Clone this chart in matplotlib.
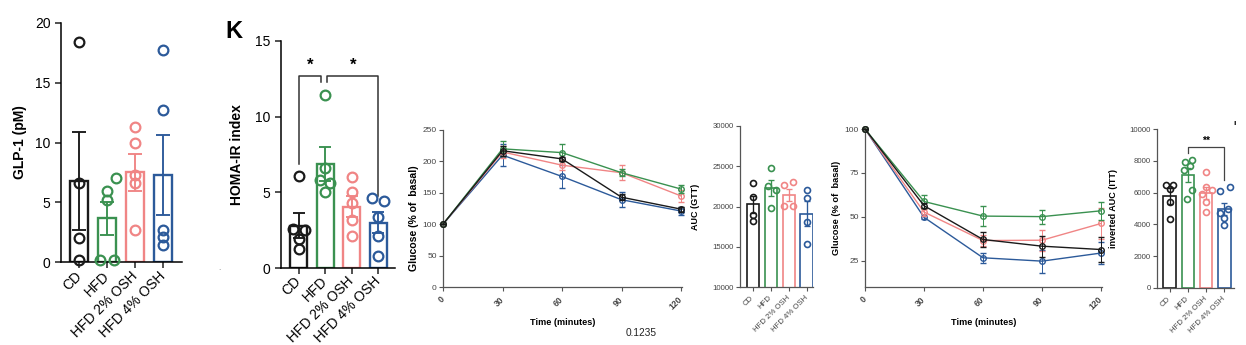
import matplotlib
matplotlib.use('Agg')
import matplotlib.pyplot as plt
import numpy as np

plt.rcParams['font.family'] = ['Liberation Sans', 'DejaVu Sans']

# ── data ──────────────────────────────────────
groups = ['CD', 'HFD', 'HFD 2% OSH', 'HFD 4% OSH']
colors = ['#1a1a1a', '#3a9150', '#f08585', '#2c5a9a']

# GLP-1 (pM)
glp_mean = [6.8, 3.65, 7.5, 7.25]
glp_sem = [4.1, 1.35, 1.55, 3.35]
glp_pts = [[18.4, 6.6, 2.0, 0.2],
           [7.0, 5.9, 5.2, 0.2, 0.2],
           [11.3, 10.0, 7.3, 6.6, 2.7],
           [17.7, 12.7, 2.7, 2.1, 1.4]]
glp_jit = [[0, 0, 0, 0],
           [0.3, 0, 0, -0.27, 0.24],
           [0, 0, 0, 0, 0],
           [0, 0, 0, 0, 0]]

# HOMA-IR index
homa_mean = [2.8, 6.87, 4.05, 3.0]
homa_sem = [0.85, 1.15, 0.7, 0.72]
homa_pts = [[6.1, 2.55, 2.5, 1.9, 1.25],
            [11.4, 6.6, 5.8, 5.6, 5.05],
            [6.0, 5.0, 4.3, 3.2, 2.1],
            [4.6, 4.45, 3.35, 2.1, 0.8]]
homa_jit = [[0, -0.22, 0.22, 0, 0],
            [0, 0, -0.2, 0.2, 0],
            [0, 0, 0, 0, 0],
            [-0.22, 0.22, 0, 0, 0]]

# GTT (% of basal)
time_min = [0, 30, 60, 90, 120]
gtt_mean = [[100, 217, 204, 143, 124],
            [100, 220, 214, 182, 156],
            [100, 215, 194, 182, 145],
            [100, 210, 176, 139, 121]]
gtt_sem = [[0, 8, 3, 5, 4],
           [0, 12, 13, 6, 6],
           [0, 10, 8, 12, 9],
           [0, 18, 18, 12, 6]]

# AUC (GTT)
auc_gtt_mean = [20250, 22300, 21430, 19080]
auc_gtt_sem = [1050, 1000, 750, 1550]
auc_gtt_pts = [[22930, 21230, 19000, 18150],
               [24800, 22600, 22060, 19810],
               [22680, 23010, 20020, 20020],
               [22060, 21020, 18020, 15320]]
auc_gtt_jit = [[0, 0, 0, 0],
               [0, -0.18, 0.28, 0],
               [-0.24, 0.22, -0.24, 0.22],
               [0, 0, 0, 0]]

# ITT (% of basal)
itt_mean = [[100, 56.4, 37.2, 33.4, 31.5],
            [100, 58.8, 50.5, 50.2, 53.5],
            [100, 52.8, 36.6, 36.8, 46.3],
            [100, 49.8, 26.8, 24.9, 29.5]]
itt_sem = [[0, 1.5, 4, 6, 7],
           [0, 3.5, 5.5, 4, 5],
           [0, 2, 3, 6, 9],
           [0, 1, 3, 6.5, 6]]

# inverted AUC (ITT)
auc_itt_mean = [5780, 7090, 5950, 4990]
auc_itt_sem = [520, 430, 380, 380]
auc_itt_pts = [[6480, 6480, 6220, 5420, 4310],
               [8050, 7900, 7650, 7450, 6150, 5570],
               [7310, 6370, 6160, 5900, 5420, 4790],
               [6370, 6110, 5000, 4690, 4410, 3950]]
auc_itt_jit = [[-0.18, 0.2, 0, 0, 0],
               [0.22, -0.15, 0.1, -0.2, 0.2, -0.05],
               [0, 0, 0.3, -0.25, 0, 0],
               [0.3, -0.25, 0.2, -0.25, 0, 0]]


# ── helpers ───────────────────────────────────
def px_axes(fig, x0, x1, ytop, ybot):
    W, H = 1246, 345
    return fig.add_axes([x0 / W, 1 - ybot / H, (x1 - x0) / W, (ybot - ytop) / H])


def bar_dot(ax, means, sems, pts, jit, lw, ms, mew, cap, fs, width=0.64):
    x = np.arange(len(groups))
    for i in range(len(groups)):
        ax.bar(x[i], means[i], width=width, color='white', edgecolor=colors[i],
               linewidth=lw, zorder=2)
        ax.errorbar(x[i], means[i], yerr=sems[i], color=colors[i], capsize=cap,
                    elinewidth=lw * 0.8, capthick=lw * 0.8, zorder=3)
        ax.plot(x[i] + np.array(jit[i]), pts[i], 'o', mfc='none', mec=colors[i],
                ms=ms, mew=mew, zorder=4, clip_on=False)
    ax.set_xticks(x)
    ax.set_xticklabels(groups, rotation=45, ha='right', va='center',
                       rotation_mode='anchor', fontsize=fs)
    ax.spines[['top', 'right']].set_visible(False)


def line_panel(ax, means, sems, axcol='#555555'):
    for i in [3, 2, 1, 0]:
        ax.errorbar(time_min, means[i], yerr=sems[i], color=colors[i], lw=1.0,
                    marker='o', mfc='none', mec=colors[i], ms=4, mew=1.0,
                    capsize=2, elinewidth=0.7, capthick=0.7, clip_on=False,
                    zorder=3 + (3 - i))
    ax.set_xticks(time_min)
    ax.set_xticklabels([str(t) for t in time_min], rotation=45, ha='right',
                       va='center', rotation_mode='anchor', fontsize=6.2,
                       fontweight='bold', color='#444444')
    ax.spines[['top', 'right']].set_visible(False)
    for s in ['left', 'bottom']:
        ax.spines[s].set_color(axcol)
        ax.spines[s].set_linewidth(0.9)
    ax.tick_params(colors=axcol, width=0.8, length=3, labelcolor='#444444')
    ax.tick_params(axis='y', labelsize=6, pad=1.5)
    ax.tick_params(axis='x', pad=5)
    ax.set_xlabel('Time (minutes)', fontsize=6.6, fontweight='bold', labelpad=5)


fig = plt.figure(figsize=(12.46, 3.45), dpi=100)

# ── GLP-1 ──
ax1 = px_axes(fig, 61, 182, 23, 262)
bar_dot(ax1, glp_mean, glp_sem, glp_pts, glp_jit, lw=1.7, ms=7, mew=1.6, cap=5, fs=8.8)
ax1.set_xlim(-0.65, 3.67)
ax1.set_ylim(0, 20)
ax1.set_yticks([0, 5, 10, 15, 20])
ax1.tick_params(labelsize=10, width=1.1, length=4, color='#222222')
ax1.tick_params(axis='x', pad=5)
for s in ['left', 'bottom']:
    ax1.spines[s].set_linewidth(1.1)
ax1.set_ylabel('GLP-1 (pM)', fontsize=10, fontweight='bold', labelpad=6)

# ── HOMA-IR ──
ax2 = px_axes(fig, 281, 395, 41, 268)
bar_dot(ax2, homa_mean, homa_sem, homa_pts, homa_jit, lw=1.7, ms=7, mew=1.6, cap=4, fs=8.8)
ax2.set_xlim(-0.67, 3.64)
ax2.set_ylim(0, 15)
ax2.set_yticks([0, 5, 10, 15])
ax2.tick_params(labelsize=10, width=1.1, length=4, color='#222222')
ax2.tick_params(axis='x', pad=4)
for s in ['left', 'bottom']:
    ax2.spines[s].set_linewidth(1.1)
ax2.set_ylabel('HOMA-IR index', fontsize=10, fontweight='bold', labelpad=8)
bk = dict(color='#333333', lw=1.1, clip_on=False)
ax2.plot([0, 0, 0.84, 0.84], [6.9, 12.7, 12.7, 12.3], **bk)
ax2.plot([1.07, 1.07, 3, 3], [12.3, 12.7, 12.7, 4.75], **bk)
ax2.text(0.42, 12.9, '*', ha='center', va='bottom', fontsize=12, fontweight='bold')
ax2.text(2.04, 12.9, '*', ha='center', va='bottom', fontsize=12, fontweight='bold')
fig.text(225 / 1246, 1 - 38 / 345, 'K', fontsize=17, fontweight='bold', va='baseline')
fig.text(218 / 1246, 1 - 270 / 345, '.', fontsize=6, color='#777777')

# ── GTT ──
ax3 = px_axes(fig, 443, 682, 130, 287)
line_panel(ax3, gtt_mean, gtt_sem)
ax3.set_xlim(0, 120.5)
ax3.set_ylim(0, 250)
ax3.set_yticks([0, 50, 100, 150, 200, 250])
ax3.set_ylabel('Glucose (% of  basal)', fontsize=7.6, fontweight='bold')
ax3.yaxis.set_label_coords(-0.1, 0.44)
fig.text(626 / 1246, 1 - 333 / 345, '0.1235', fontsize=7.3, color='#222222',
         va='center')

# ── AUC GTT ──
ax4 = px_axes(fig, 740, 813, 126, 287)
bar_dot(ax4, auc_gtt_mean, auc_gtt_sem, auc_gtt_pts, auc_gtt_jit, lw=1.2, ms=4.3,
        mew=1.2, cap=2.5, fs=5.4, width=0.68)
ax4.set_xlim(-0.72, 3.36)
ax4.set_ylim(10000, 30000)
ax4.set_yticks([10000, 15000, 20000, 25000, 30000])
for s in ['left', 'bottom']:
    ax4.spines[s].set_color('#555555')
    ax4.spines[s].set_linewidth(0.9)
ax4.tick_params(labelsize=5.6, width=0.8, length=3, color='#555555',
                labelcolor='#444444', pad=1.5)
ax4.tick_params(axis='x', pad=4)
ax4.set_ylabel('AUC (GTT)', fontsize=6.5, fontweight='bold')
ax4.yaxis.set_label_coords(-0.55, 0.5)

# ── ITT ──
ax5 = px_axes(fig, 865, 1102, 129, 287)
line_panel(ax5, itt_mean, itt_sem)
ax5.set_xlim(0, 120.5)
ax5.set_ylim(10.2, 100)
ax5.set_yticks([25, 50, 75, 100])
ax5.set_ylabel('Glucose (% of  basal)', fontsize=6.7, fontweight='bold')
ax5.yaxis.set_label_coords(-0.1, 0.5)

# ── inverted AUC ITT ──
ax6 = px_axes(fig, 1157, 1234, 129, 288)
bar_dot(ax6, auc_itt_mean, auc_itt_sem, auc_itt_pts, auc_itt_jit, lw=1.2, ms=4.3,
        mew=1.2, cap=2.5, fs=5.4, width=0.68)
ax6.set_xlim(-0.69, 3.52)
ax6.set_ylim(0, 10000)
ax6.set_yticks([0, 2000, 4000, 6000, 8000, 10000])
for s in ['left', 'bottom']:
    ax6.spines[s].set_color('#555555')
    ax6.spines[s].set_linewidth(0.9)
ax6.tick_params(labelsize=5.6, width=0.8, length=3, color='#555555',
                labelcolor='#444444', pad=1.5)
ax6.tick_params(axis='x', pad=4)
ax6.set_ylabel('inverted AUC (ITT)', fontsize=6.5, fontweight='bold')
ax6.yaxis.set_label_coords(-0.5, 0.5)
ax6.plot([1, 1, 3, 3], [8470, 8880, 8880, 6800], color='#444444', lw=0.9, clip_on=False)
ax6.text(2, 8950, '**', ha='center', va='bottom', fontsize=7.5, fontweight='bold')
fig.text(1233 / 1246, 1 - 125 / 345, 'ı', fontsize=6, fontweight='bold')

fig.savefig('out.png', dpi=100, facecolor='white')
